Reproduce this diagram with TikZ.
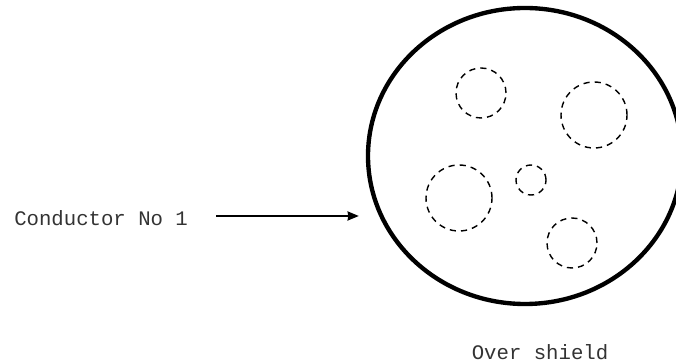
\documentclass[tikz,border=0pt]{standalone}
\usepackage{fontspec}
\setmonofont{Liberation Mono}
\usetikzlibrary{arrows.meta,positioning,shapes.geometric}
\begin{document}
\begin{tikzpicture}[
font=\ttfamily\fontsize{14.7}{16}\selectfont,
strand/.style={draw,circle,dashed,dash pattern=on 4.4pt off 3.6pt,line width=1pt,inner sep=0pt},
feed/.style={-{Stealth[length=8pt,width=6.5pt,inset=0.5pt]},line width=1.1pt}
]
    \useasboundingbox (0,0) rectangle (16.9,9.1);

    % Over shield
    \node (shield) [draw,ellipse,line width=3.1pt,inner sep=0pt,minimum width=7.85cm,minimum height=7.4cm] at (13.125,5.2) {};
    \node (shieldlabel) [text=black!80] at (13.5,0.3) {Over shield};

    % Strands
    \node (stranda) [strand,minimum size=1.25cm] at (12.025,6.775) {};
    \node (strandb) [strand,minimum size=1.65cm] at (14.85,6.225) {};
    \node (strandc) [strand,minimum size=1.65cm] at (11.475,4.15) {};
    \node (strandd) [strand,minimum size=0.75cm] at (13.275,4.6) {};
    \node (stranda2) [strand,minimum size=1.25cm] at (14.3,3.025) {};

    % Conductor
    \node (conductor) [anchor=west,inner sep=0pt,text=black!80] at (0.35,3.65) {Conductor No 1};
    \coordinate (feedstart) at (5.4,3.7);
    \coordinate (feedend) at (8.97,3.7);
    \draw[feed] (feedstart) -- (feedend);
\end{tikzpicture}
\end{document}
